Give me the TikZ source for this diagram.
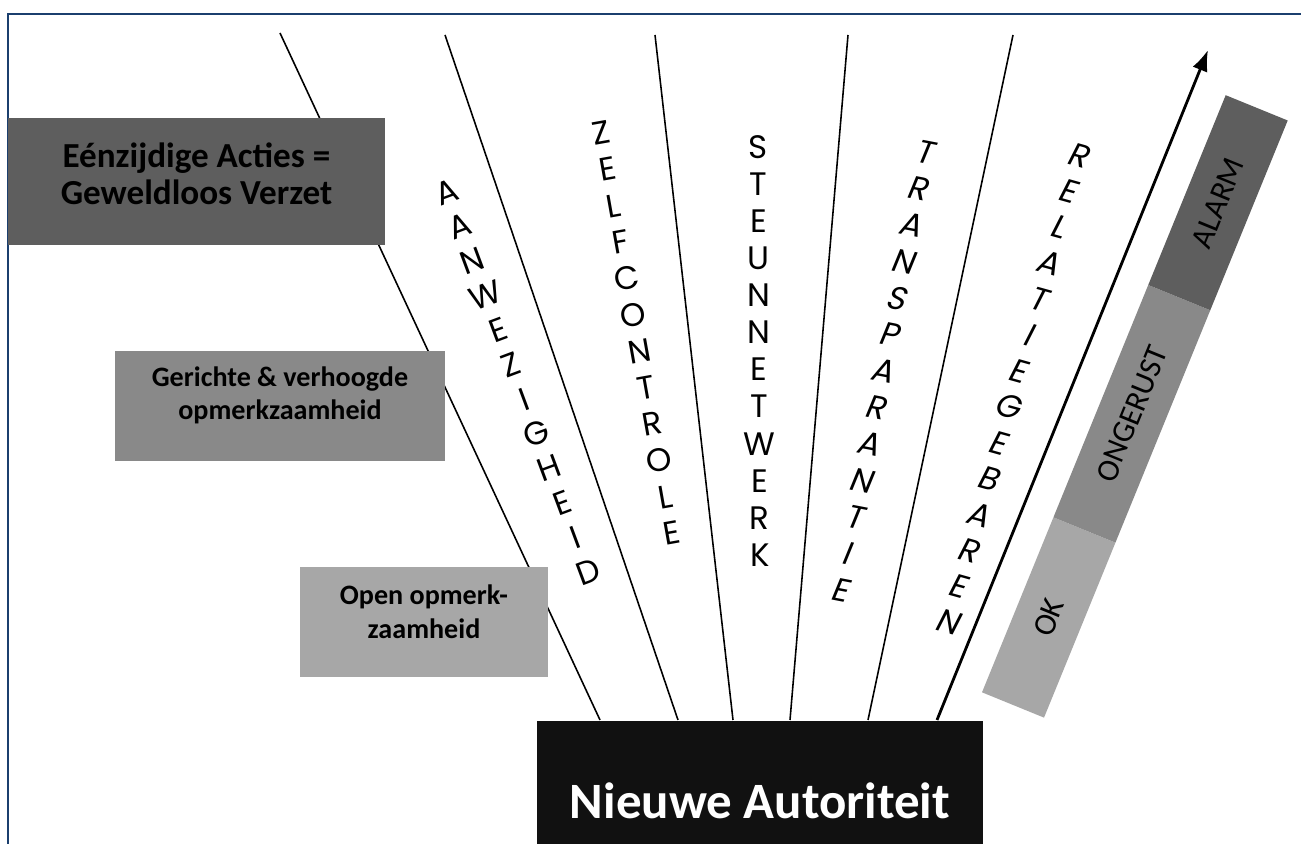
\documentclass[tikz,border=0pt]{standalone}
\usepackage{fontspec}
\usepackage{xcolor}
\usepackage{tikz}
\usetikzlibrary{arrows.meta,calc}
\setmainfont{Carlito}
\newfontfamily\lettrfont{Poppins}
\newfontfamily\slantfont[FakeSlant=0.2]{Poppins}
\definecolor{FrameBlue}{HTML}{1B3F6E}
\definecolor{GreyDark}{HTML}{5E5E5E}
\definecolor{GreyMid}{HTML}{898989}
\definecolor{GreyLight}{HTML}{A7A7A7}
\definecolor{AuthBlack}{HTML}{111111}
\tikzset{
  stepbox/.style={rectangle, inner sep=0pt, align=center, text=black},
  spoke/.style={line width=0.9pt, black},
  letter/.style={font=\lettrfont\fontsize{18.5}{18.5}\selectfont, inner sep=0pt},
  slletter/.style={font=\slantfont\fontsize{18.5}{18.5}\selectfont, inner sep=0pt},
  barseg/.style={rectangle, inner sep=0pt, minimum height=1.34cm, transform shape,
    font=\fontsize{18}{18}\selectfont}
}

\begin{document}
\begin{tikzpicture}[x=0.02cm, y=0.02cm]
  \useasboundingbox (0,0) rectangle (1301,844);
  \clip (0,0) rectangle (1301,844);
  \draw[FrameBlue, line width=1.1pt] (8,0) |- (1301,830);

  % spokes into the authority box
  \coordinate (t1) at (280,811);  \coordinate (b1) at (600,124);
  \coordinate (t2) at (445,809);  \coordinate (b2) at (678,124);
  \coordinate (t3) at (655,809);  \coordinate (b3) at (733,124);
  \coordinate (t4) at (848,809);  \coordinate (b4) at (790,124);
  \coordinate (t5) at (1013,809); \coordinate (b5) at (868,124);
  \coordinate (t6) at (1208,794); \coordinate (b6) at (937,124);
  \foreach \i in {1,...,5}
    \draw[spoke] (t\i) -- (b\i);
  \draw[spoke, line width=1.6pt, -{Latex[length=12pt,width=9pt]}] (b6) -- (t6);

  % escalation boxes
  \node[stepbox, fill=GreyDark, minimum width=7.54cm, minimum height=2.54cm, text depth=0.32cm,
    font=\bfseries\fontsize{20}{21}\selectfont] (acties) at (196.5,662.5)
    {Eénzijdige Acties =\\Geweldloos Verzet};
  \node[stepbox, fill=GreyMid, minimum width=6.6cm, minimum height=2.2cm, text depth=0.5cm,
    font=\bfseries\fontsize{16}{18.7}\selectfont] (gericht) at (280,438)
    {Gerichte \& verhoogde\\opmerkzaamheid};
  \node[stepbox, fill=GreyLight, minimum width=4.96cm, minimum height=2.2cm, text depth=0.4cm,
    font=\bfseries\fontsize{16}{19.5}\selectfont] (open) at (424,222)
    {Open opmerk-\\zaamheid};
  \node[stepbox, fill=AuthBlack, text=white, anchor=north, minimum width=8.92cm, minimum height=3.16cm,
    font=\bfseries\fontsize{29}{30}\selectfont] (autoriteit) at (760,123) {Nieuwe Autoriteit};

  % words along the spokes
  \foreach \ch [count=\i from 0] in {A,A,N,W,E,Z,I,G,H,E,I,D}
    \node[letter, rotate=20.4] (aanw\i) at ($(447,652)!{\i/11}!(588,272)$) {\ch};
  \foreach \ch [count=\i from 0] in {Z,E,L,F,C,O,N,T,R,O,L,E}
    \node[letter, rotate=10.1] (zelf\i) at ($(601,711)!{\i/11}!(672,311)$) {\ch};
  \foreach \ch [count=\i from 0] in {S,T,E,U,N,N,E,T,W,E,R,K}
    \node[letter] (steun\i) at ($(758,697)!{\i/11}!(760,289)$) {\ch};
  \foreach \ch [count=\i from 0] in {T,R,A,N,S,P,A,R,A,N,T,I,E}
    \node[slletter, rotate=-10.9] (trans\i) at ($(924,692)!{\i/12}!(840,254)$) {\ch};
  \foreach \ch [count=\i from 0] in {R,E,L,A,T,I,E,G,E,B,A,R,E,N}
    \node[slletter, rotate=-15.6] (relat\i) at ($(1078,689)!{\i/13}!(948,222)$) {\ch};

  % alarm scale
  \begin{scope}[shift={(1013,139)}, rotate=67.8]
    \node[barseg, fill=GreyLight, minimum width=3.78cm] (ok) at (94.5,0) {OK};
    \node[barseg, fill=GreyMid, minimum width=5.02cm] (ongerust) at (314.5,0) {ONGERUST};
    \node[barseg, fill=GreyDark, minimum width=4.1cm] (alarm) at (542.5,0) {ALARM};
  \end{scope}
\end{tikzpicture}
\end{document}
